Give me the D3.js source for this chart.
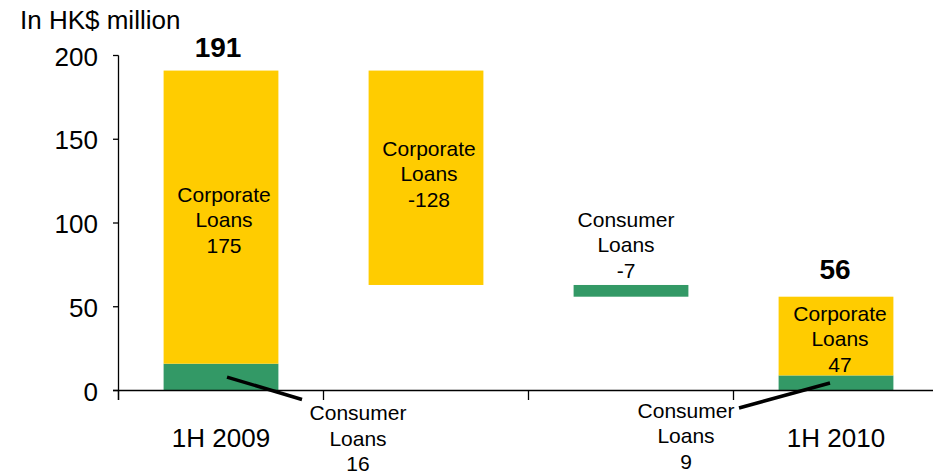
<!DOCTYPE html>
<html>
<head>
<meta charset="utf-8">
<script src="https://cdn.jsdelivr.net/npm/d3@7"></script>
<style>
  html, body { margin: 0; padding: 0; background: #fff; }
  svg { display: block; font-family: "Liberation Sans", Arial, sans-serif; }
</style>
</head>
<body>
<svg id="chart" width="933" height="474"></svg>
<script>
// Loan impairment charges bridge, 1H 2009 -> 1H 2010 (HK$ million)
const categoryLabels = ["1H 2009", "", "", "1H 2010"];
const seriesNames = ["Consumer Loans", "Corporate Loans"];
const opening = [16, 175];        // consumer, corporate in 1H 2009
const changes = [                 // bridge steps: [series index, change]
  [1, -128],
  [0, -7]
];
const closing = [9, 47];          // consumer, corporate in 1H 2010
const yTicks = [0, 50, 100, 150, 200];

const colors = ["#339966", "#FFCC00"];

const svg = d3.select("#chart");
const y = d3.scaleLinear().domain([0, 200]).range([390.5, 55.5]);
const x = d3.scaleBand()
  .domain(d3.range(categoryLabels.length))
  .range([118.5, 938.5])
  .paddingInner(0.44)
  .paddingOuter(0.22);
const step = x.step();

// Build the floating segments
const segments = [];
let base = 0;
opening.forEach((v, s) => { segments.push({ i: 0, s, y0: base, y1: base + v, v }); base += v; });
const openTotal = base;
let running = openTotal;
changes.forEach(([s, v], k) => {
  segments.push({ i: k + 1, s, y0: running + v, y1: running, v });
  running += v;
});
base = 0;
closing.forEach((v, s) => { segments.push({ i: 3, s, y0: base, y1: base + v, v }); base += v; });
const closeTotal = base;

// Bars
svg.append("g").selectAll("rect").data(segments).join("rect")
  .attr("x", d => x(d.i))
  .attr("width", x.bandwidth())
  .attr("y", d => y(d.y1))
  .attr("height", d => y(d.y0) - y(d.y1))
  .attr("fill", d => colors[d.s]);

// Axes
const axis = svg.append("g").attr("stroke", "#000").attr("stroke-width", 1.3);
axis.append("line").attr("x1", 118.5).attr("x2", 118.5).attr("y1", y(200)).attr("y2", y(0) + 9.5);
axis.append("line").attr("x1", 113).attr("x2", 933).attr("y1", y(0)).attr("y2", y(0));
axis.selectAll(".yt").data(yTicks).join("line")
  .attr("x1", 113).attr("x2", 118.5).attr("y1", d => y(d)).attr("y2", d => y(d));
axis.selectAll(".xt").data(d3.range(categoryLabels.length + 1)).join("line")
  .attr("x1", i => 118.5 + i * step).attr("x2", i => 118.5 + i * step)
  .attr("y1", y(0)).attr("y2", y(0) + 9.5);

// Y tick labels
svg.append("g").selectAll("text").data(yTicks).join("text")
  .attr("x", 98).attr("y", d => y(d) + 10)
  .attr("text-anchor", "end").attr("font-size", 26).attr("fill", "#000")
  .text(d => d);

// Unit title
svg.append("text").attr("x", 20).attr("y", 29).attr("font-size", 26).attr("fill", "#000")
  .text("In HK$ million");

// Category labels
svg.append("g").selectAll("text").data(categoryLabels).join("text")
  .attr("x", (d, i) => x(i) + x.bandwidth() / 2)
  .attr("y", 447)
  .attr("text-anchor", "middle").attr("font-size", 26).attr("fill", "#000")
  .text(d => d);

// Totals above the end bars
const totals = [
  { i: 0, v: openTotal, gap: 14, dx: -3 },
  { i: 3, v: closeTotal, gap: 18, dx: -1 }
];
svg.append("g").selectAll("text").data(totals).join("text")
  .attr("x", d => x(d.i) + x.bandwidth() / 2 + d.dx)
  .attr("y", d => y(d.v) - d.gap)
  .attr("text-anchor", "middle").attr("font-size", 28).attr("font-weight", "bold").attr("fill", "#000")
  .text(d => d.v);

// Multi-line segment labels
function label(lines, cx, baseline) {
  const t = svg.append("text").attr("text-anchor", "middle").attr("font-size", 21).attr("fill", "#000");
  lines.forEach((ln, k) => {
    t.append("tspan").attr("x", cx).attr("y", baseline + k * 25.5).text(ln);
  });
}
function linesFor(seg) {
  const parts = seriesNames[seg.s].split(" ");
  return [parts[0], parts[1], String(seg.v)];
}
const cx = i => x(i) + x.bandwidth() / 2;
const seg = (i, s) => segments.find(d => d.i === i && d.s === s);

// Corporate labels inside the bars
label(linesFor(seg(0, 1)), cx(0) + 3, 201.5);
label(linesFor(seg(1, 1)), cx(1) + 3, 155.5);
label(linesFor(seg(3, 1)), cx(3) + 4, 320.5);
// Consumer change label above its thin bar
label(linesFor(seg(2, 0)), cx(2) - 5, y(seg(2, 0).y1) - 58);
// Consumer labels below the axis with leader lines
label(linesFor(seg(0, 0)), cx(0) + 137, 420);
label(linesFor(seg(3, 0)), cx(3) - 150, 417.5);

const leaders = [
  { x1: cx(0) + 6, y1: y(seg(0, 0).v / 2), x2: cx(0) + 81, y2: 399.5 },
  { x1: cx(3) - 6, y1: y(seg(3, 0).v / 2), x2: cx(3) - 97, y2: 408 }
];
svg.append("g").selectAll("line").data(leaders).join("line")
  .attr("x1", d => d.x1).attr("y1", d => d.y1)
  .attr("x2", d => d.x2).attr("y2", d => d.y2)
  .attr("stroke", "#000").attr("stroke-width", 3.5);
</script>
</body>
</html>
